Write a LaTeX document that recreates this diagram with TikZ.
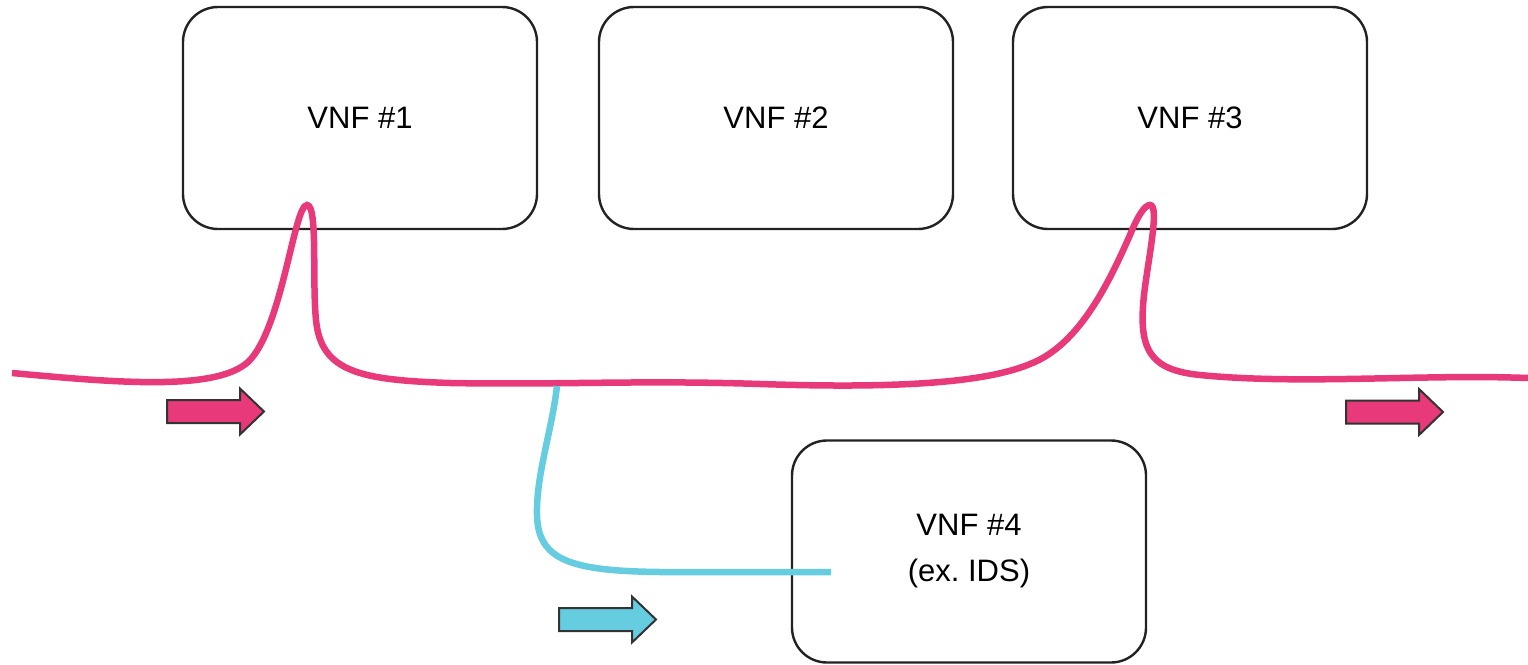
\documentclass[tikz,border=0pt]{standalone}
\usepackage{fontspec}
\setmainfont{Liberation Sans}
\definecolor{flowpink}{RGB}{232,57,122}
\definecolor{flowcyan}{RGB}{102,204,224}
\definecolor{edge}{RGB}{34,34,34}
\definecolor{arrowedge}{RGB}{51,51,51}
\tikzset{
  vnf/.style={draw=edge, line width=2.4pt, rounded corners=35pt,
    minimum width=354pt, minimum height=222pt, align=center,
    font=\fontsize{31}{46}\selectfont, inner sep=0pt},
  mainflow/.style={draw=flowpink, line width=6.5pt},
  tapflow/.style={draw=flowcyan, line width=6.5pt},
  pics/flowarrow/.style={code={
    \draw[fill=#1, draw=arrowedge, line width=2pt, line join=miter]
      (0,-11.5) -- (73,-11.5) -- (73,-23) -- (97,0) -- (73,23)
      -- (73,11.5) -- (0,11.5) -- cycle;
  }}
}
\begin{document}
\begin{tikzpicture}[x=1pt, y=-1pt]
\useasboundingbox (0,0) rectangle (1528,664);

% network functions
\node[vnf] (v1) at (360,118) {VNF \#1};
\node[vnf] (v2) at (776,118) {VNF \#2};
\node[vnf] (v3) at (1190,118) {VNF \#3};
\node[vnf] (v4) at (969,551.5) {VNF \#4\\(ex.\ IDS)};

% end points of the service chain
\coordinate (inL) at (12,373);
\coordinate (outR) at (1528,378);
\coordinate (tap) at (557,386);
\coordinate (idsIn) at (831,572);

% main service chain through VNF #1 and VNF #3
\draw[mainflow] (inL)
  .. controls (110,382) and (215,392) .. (248,362)
  .. controls (282,330) and (294,205) .. (307,205)
  .. controls (318,205) and (312,280) .. (316,320)
  .. controls (321,372) and (360,380) .. (450,383)
  .. controls (560,385) and (640,380) .. (760,384)
  .. controls (880,388) and (980,385) .. (1030,364)
  .. controls (1080,345) and (1110,280) .. (1130,235)
  .. controls (1138,215) and (1145,205) .. (1150,205)
  .. controls (1160,205) and (1148,260) .. (1144,295)
  .. controls (1138,350) and (1150,370) .. (1200,375)
  .. controls (1300,385) and (1420,374) .. (outR);

% mirrored traffic towards the IDS
\draw[tapflow] (tap)
  .. controls (552,430) and (536,475) .. (537,515)
  .. controls (538,560) and (570,571) .. (660,572)
  -- (idsIn);

% direction markers
\pic at (167,411.5) {flowarrow=flowpink};
\pic at (1346,412) {flowarrow=flowpink};
\pic at (559,619.5) {flowarrow=flowcyan};
\end{tikzpicture}
\end{document}
